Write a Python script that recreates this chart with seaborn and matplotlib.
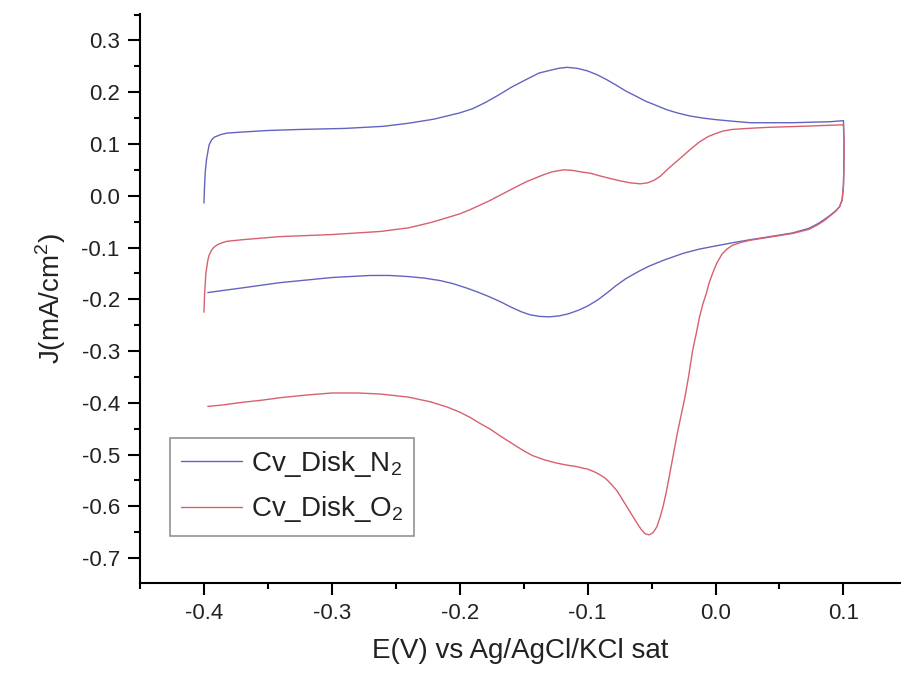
import pandas as pd
import matplotlib
matplotlib.use("Agg")
import matplotlib.pyplot as plt
from matplotlib.ticker import MultipleLocator
import seaborn as sns

# -----------------------------------
# Data: (E in V, J in mA/cm2), in scan order
# -----------------------------------
n2_scan = [
    (-0.400, -0.014), (-0.3995, 0.020), (-0.399, 0.045), (-0.398, 0.070), (-0.396, 0.098),
    (-0.394, 0.108), (-0.392, 0.113), (-0.387, 0.118), (-0.382, 0.121), (-0.370, 0.123),
    (-0.350, 0.126), (-0.325, 0.128), (-0.290, 0.130), (-0.260, 0.134), (-0.240, 0.140),
    (-0.220, 0.148), (-0.200, 0.160), (-0.190, 0.168), (-0.180, 0.180), (-0.170, 0.194),
    (-0.160, 0.209), (-0.150, 0.222), (-0.138, 0.237), (-0.123, 0.246), (-0.116, 0.248),
    (-0.108, 0.246), (-0.100, 0.241), (-0.092, 0.233), (-0.085, 0.224), (-0.078, 0.214),
    (-0.070, 0.202), (-0.062, 0.192), (-0.055, 0.183), (-0.046, 0.174), (-0.038, 0.166),
    (-0.030, 0.160), (-0.020, 0.154), (-0.010, 0.150), (0.000, 0.147), (0.013, 0.144),
    (0.027, 0.141), (0.060, 0.141), (0.090, 0.143), (0.100, 0.145),
    (0.1005, 0.100), (0.1003, 0.050), (0.100, 0.020), (0.099, -0.008), (0.097, -0.021),
    (0.094, -0.029), (0.090, -0.037), (0.085, -0.046), (0.080, -0.054), (0.073, -0.063),
    (0.060, -0.072), (0.040, -0.080), (0.027, -0.085), (0.013, -0.091), (0.000, -0.097),
    (-0.0125, -0.103), (-0.025, -0.111), (-0.040, -0.124), (-0.052, -0.136), (-0.060, -0.146),
    (-0.070, -0.160), (-0.078, -0.174), (-0.085, -0.188), (-0.092, -0.201), (-0.100, -0.213),
    (-0.107, -0.221), (-0.115, -0.228), (-0.122, -0.232), (-0.130, -0.234), (-0.138, -0.233),
    (-0.145, -0.230), (-0.152, -0.224), (-0.160, -0.215), (-0.168, -0.205), (-0.177, -0.195),
    (-0.186, -0.186), (-0.195, -0.178), (-0.205, -0.170), (-0.215, -0.164), (-0.228, -0.159),
    (-0.241, -0.156), (-0.255, -0.154), (-0.270, -0.154), (-0.300, -0.158), (-0.341, -0.168),
    (-0.370, -0.178), (-0.397, -0.187),
]

o2_scan = [
    (-0.400, -0.225), (-0.3995, -0.190), (-0.399, -0.170), (-0.3985, -0.150), (-0.397, -0.125),
    (-0.396, -0.115), (-0.394, -0.105), (-0.392, -0.099), (-0.389, -0.094), (-0.386, -0.091),
    (-0.382, -0.088), (-0.370, -0.085), (-0.360, -0.083), (-0.341, -0.079), (-0.300, -0.075),
    (-0.262, -0.069), (-0.240, -0.062), (-0.223, -0.052), (-0.212, -0.044), (-0.200, -0.035),
    (-0.192, -0.027), (-0.184, -0.018), (-0.177, -0.010), (-0.170, -0.001), (-0.163, 0.008),
    (-0.156, 0.017), (-0.148, 0.027), (-0.140, 0.035), (-0.134, 0.041), (-0.128, 0.046),
    (-0.119, 0.050), (-0.112, 0.049), (-0.105, 0.046), (-0.097, 0.043), (-0.090, 0.038),
    (-0.082, 0.033), (-0.075, 0.029), (-0.067, 0.025), (-0.059, 0.023), (-0.053, 0.025),
    (-0.048, 0.030), (-0.043, 0.038), (-0.038, 0.050), (-0.032, 0.063), (-0.026, 0.076),
    (-0.019, 0.091), (-0.0125, 0.104), (-0.006, 0.114), (0.000, 0.120), (0.006, 0.125),
    (0.013, 0.128), (0.025, 0.130), (0.040, 0.132), (0.066, 0.134), (0.100, 0.137),
    (0.1005, 0.100), (0.1003, 0.050), (0.100, 0.020), (0.099, -0.008), (0.097, -0.021),
    (0.094, -0.030), (0.090, -0.038), (0.085, -0.048), (0.080, -0.056), (0.073, -0.065),
    (0.060, -0.073), (0.040, -0.081), (0.027, -0.086), (0.020, -0.090), (0.013, -0.096),
    (0.009, -0.103), (0.005, -0.113), (0.001, -0.130), (-0.002, -0.148), (-0.005, -0.168),
    (-0.007, -0.187), (-0.010, -0.210), (-0.0125, -0.234), (-0.015, -0.265), (-0.018, -0.300),
    (-0.021, -0.348), (-0.024, -0.390), (-0.027, -0.425), (-0.030, -0.460), (-0.033, -0.500),
    (-0.036, -0.540), (-0.0385, -0.572), (-0.041, -0.600), (-0.0435, -0.622), (-0.046, -0.640),
    (-0.049, -0.651), (-0.052, -0.655), (-0.055, -0.653), (-0.058, -0.645), (-0.061, -0.634),
    (-0.065, -0.618), (-0.069, -0.602), (-0.073, -0.586), (-0.077, -0.570), (-0.082, -0.556),
    (-0.086, -0.546), (-0.091, -0.538), (-0.095, -0.533), (-0.100, -0.528), (-0.104, -0.526),
    (-0.109, -0.523), (-0.117, -0.520), (-0.125, -0.516), (-0.134, -0.510), (-0.143, -0.502),
    (-0.149, -0.494), (-0.155, -0.485), (-0.162, -0.474), (-0.169, -0.463), (-0.176, -0.451),
    (-0.184, -0.440), (-0.192, -0.428), (-0.200, -0.418), (-0.210, -0.408), (-0.223, -0.398),
    (-0.240, -0.389), (-0.262, -0.383), (-0.280, -0.381), (-0.300, -0.381), (-0.320, -0.385),
    (-0.340, -0.390), (-0.355, -0.395), (-0.370, -0.399), (-0.385, -0.404), (-0.397, -0.407),
]

labels = [r"Cv_Disk_N$_2$", r"Cv_Disk_O$_2$"]
colors = ["#6464c0", "#d8606e"]

df_n2 = pd.DataFrame(n2_scan, columns=["E", "J"])
df_o2 = pd.DataFrame(o2_scan, columns=["E", "J"])

# -----------------------------------
# Plot
# -----------------------------------
sns.set_style("ticks")
plt.rcParams["font.family"] = ["Liberation Sans", "DejaVu Sans"]
plt.rcParams["mathtext.fontset"] = "custom"
plt.rcParams["mathtext.rm"] = "Liberation Sans"

fig = plt.figure(figsize=(9.01, 6.73), dpi=100)
ax = fig.add_axes([140 / 901, 1 - 583 / 673, 1 - 140 / 901, (583 - 14) / 673])

sns.lineplot(data=df_n2, x="E", y="J", sort=False, estimator=None,
             color=colors[0], linewidth=1.0, label=labels[0], ax=ax)
sns.lineplot(data=df_o2, x="E", y="J", sort=False, estimator=None,
             color=colors[1], linewidth=1.0, label=labels[1], ax=ax)

ax.set_xlim(-0.45, 0.145)
ax.set_ylim(-0.748, 0.351)
ax.xaxis.set_major_locator(MultipleLocator(0.1))
ax.xaxis.set_minor_locator(MultipleLocator(0.05))
ax.yaxis.set_major_locator(MultipleLocator(0.1))
ax.yaxis.set_minor_locator(MultipleLocator(0.05))
fmt = plt.FuncFormatter(lambda v, p: f"{v:.1f}".replace("-0.0", "0.0"))
ax.xaxis.set_major_formatter(fmt)
ax.yaxis.set_major_formatter(fmt)

sns.despine(ax=ax)
for s in ["left", "bottom"]:
    ax.spines[s].set_linewidth(1.5)
    ax.spines[s].set_color("black")
ax.tick_params(which="major", direction="out", length=8.5, width=1.5,
               labelsize=16, pad=6, colors="black")
ax.tick_params(which="minor", direction="out", length=4.5, width=1.5, colors="black")
for lbl in ax.get_xticklabels() + ax.get_yticklabels():
    lbl.set_color("#222222")

ax.set_xlabel("E(V) vs Ag/AgCl/KCl sat", fontsize=20, color="#222222", labelpad=10)
ax.set_ylabel(r"J(mA/cm$^2$)", fontsize=20, color="#222222", labelpad=10)

leg = ax.legend(loc="upper left", bbox_to_anchor=(170 / 901, 1 - 438 / 673),
                bbox_transform=fig.transFigure, borderaxespad=0, fontsize=20,
                frameon=True, fancybox=False, handlelength=2.2, handletextpad=0.3,
                labelspacing=0.55, borderpad=0.4)
leg.get_frame().set_edgecolor("#777777")
leg.get_frame().set_linewidth(1.2)
for t in leg.get_texts():
    t.set_color("#222222")

fig.savefig("out.png", dpi=100)
